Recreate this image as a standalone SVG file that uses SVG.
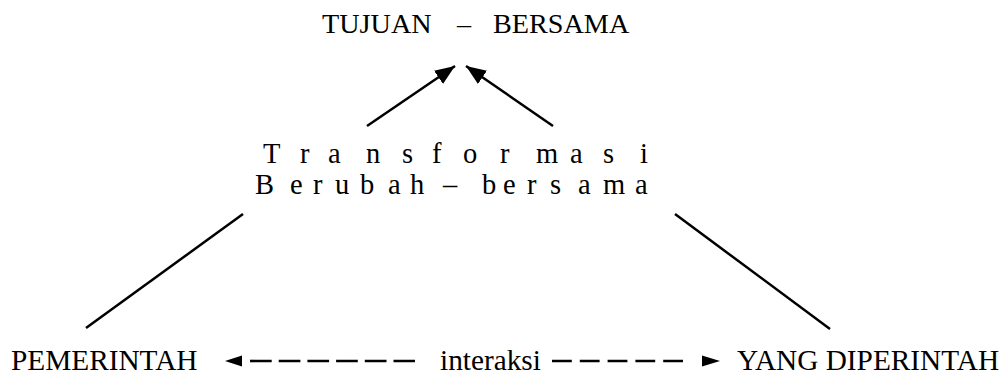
<svg xmlns="http://www.w3.org/2000/svg" width="1008" height="377" viewBox="0 0 1008 377">
<style>
text{font-family:"Liberation Serif","Times New Roman",serif;fill:#000;font-size:28.5px}
.big{font-size:29.3px}
.top{font-size:28.2px}
.ln{stroke:#000;stroke-width:2.5;fill:none}
.dash{stroke:#000;stroke-width:2.6;fill:none}
</style>
<defs>
<marker id="ah" markerUnits="userSpaceOnUse" markerWidth="22" markerHeight="18" refX="20" refY="8" orient="auto">
<path d="M0,0 L20,8 L0,16 z" fill="#000"/>
</marker>
</defs>
<rect width="1008" height="377" fill="#fff"/>
<g id="tujuan"><text class="top" x="322" y="33">TUJUAN</text><text class="top" x="457" y="33">–</text><text class="top" x="493" y="33">BERSAMA</text></g>
<g id="transformasi">
<text x="263 300 328 366 402 432 463 500 536 570 603 640" y="163">Transformasi</text>
<text x="255 290 313 335 360 388 410 430 443 465 482 503 527 550 578 603 635" y="194">Berubah – bersama</text>
</g>
<g id="pemerintah"><text class="big" x="11" y="370">PEMERINTAH</text></g>
<g id="interaksi"><text class="big" x="440" y="370">interaksi</text></g>
<g id="yang-diperintah"><text class="big" x="737" y="370">YANG DIPERINTAH</text></g>
<g id="connectors">
<line class="ln" x1="367" y1="126" x2="455" y2="66" marker-end="url(#ah)"/>
<line class="ln" x1="553" y1="126" x2="466" y2="66" marker-end="url(#ah)"/>
<line class="ln" x1="243" y1="214" x2="86" y2="328"/>
<line class="ln" x1="675" y1="214" x2="830" y2="329"/>
<line class="dash" x1="250" y1="361" x2="415" y2="361" stroke-dasharray="21.7 7"/>
<polygon points="225,361 242,355.5 242,366.5" fill="#000"/>
<line class="dash" x1="552" y1="361" x2="683" y2="361" stroke-dasharray="19.8 8"/>
<polygon points="720,361 702,355.5 702,366.5" fill="#000"/>
</g>
</svg>
